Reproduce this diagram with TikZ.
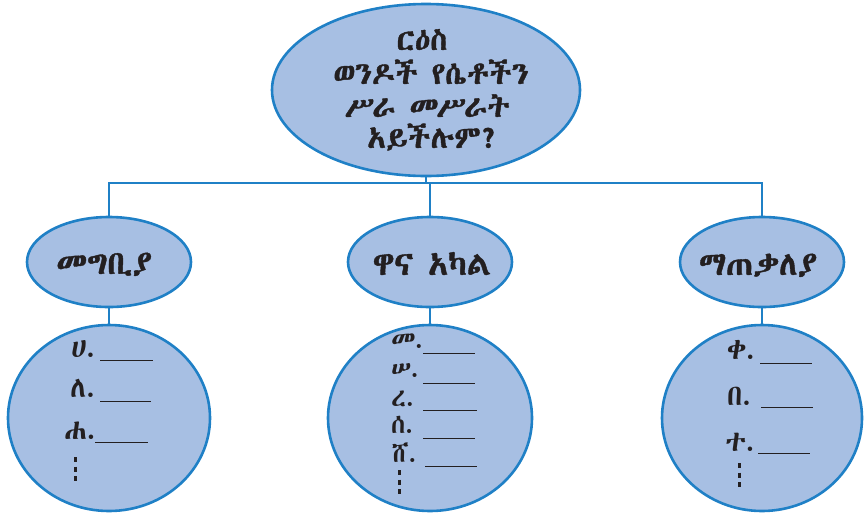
\documentclass[tikz,border=0pt]{standalone}
\usepackage{fontspec}
\usetikzlibrary{shapes.geometric}
\IfFontExistsTF{Abyssinica SIL}{\newfontfamily\eth[AutoFakeBold=1.2]{Abyssinica SIL}}{%
 \IfFontExistsTF{Noto Sans Ethiopic}{\newfontfamily\eth{Noto Sans Ethiopic}}{%
  \IfFontExistsTF{FreeSerif}{\newfontfamily\eth{FreeSerif}}{%
   \newfontfamily\eth{DejaVu Sans}}}}
\definecolor{efill}{HTML}{A7BFE3}
\definecolor{eline}{HTML}{1F80C6}
\definecolor{ink}{HTML}{231F20}
\tikzset{
  bub/.style={ellipse, draw=eline, fill=efill, line width=2.6pt, inner sep=0pt},
  conn/.style={draw=eline, line width=1.8pt},
  ttl/.style={anchor=base, font=\eth\bfseries\fontsize{31}{32}\selectfont, text=ink, inner sep=0pt},
  lab/.style={anchor=base, font=\eth\bfseries\fontsize{33}{36}\selectfont, text=ink, inner sep=0pt},
  item/.style={anchor=base west, font=\eth\fontsize{29}{30}\selectfont, text=ink, inner sep=0pt},
  itemsm/.style={item, font=\eth\fontsize{26}{27}\selectfont},
  blankline/.style={draw=ink, line width=1pt},
  vdot/.style={draw=ink, line width=3pt, dash pattern=on 5pt off 4.5pt},
}
\begin{document}
\begin{tikzpicture}[x=1pt,y=-1pt]
\useasboundingbox (0,0) rectangle (864,512);
% top
\node[bub, minimum width=308pt, minimum height=172pt] (top) at (426,90) {};
\node[ttl] (t1) at (422,50) {ርዕስ};
\node[ttl] (t2) at (431,84) {ወንዶች የሴቶችን};
\node[ttl] (t3) at (427,117) {ሥራ መሥራት};
\node[ttl] (t4) at (433,148) {አይችሉም?};
% second row
\node[bub, minimum width=164pt, minimum height=90pt] (l1) at (109,262) {};
\node[bub, minimum width=164pt, minimum height=90pt] (m1) at (430,262) {};
\node[bub, minimum width=164pt, minimum height=90pt] (r1) at (762,262) {};
\node[lab] (l1t) at (104,274) {መግቢያ};
\node[lab] (m1t) at (432,275) {ዋና አካል};
\node[lab] (r1t) at (758,275) {ማጠቃለያ};
% third row
\node[bub, minimum width=202pt, minimum height=186pt] (l2) at (109,418) {};
\node[bub, minimum width=204pt, minimum height=186pt] (m2) at (430,418) {};
\node[bub, minimum width=200pt, minimum height=186pt] (r2) at (762,418) {};
% connectors
\coordinate (hj) at (426,183);
\draw[conn] (top.south) -- (hj);
\draw[conn] (l1.north) |- (hj) -| (r1.north);
\draw[conn] (hj -| m1.north) -- (m1.north);
\draw[conn] (l1.south) -- (l2.north);
\draw[conn] (m1.south) -- (m2.north);
\draw[conn] (r1.south) -- (r2.north);
% left list
\node[item] (la) at (71,357) {ሀ.};
\node[item] (lb) at (70,397) {ለ.};
\node[item] (lc) at (64,439) {ሐ.};
\draw[blankline] (100,360) -- (153,360);
\draw[blankline] (100,401) -- (151,401);
\draw[blankline] (95,442) -- (148,442);
\draw[vdot] (75,457) -- (75,484);
% middle list
\node[itemsm] (ma) at (391,348) {መ.};
\node[itemsm] (mb) at (391,377) {ሠ.};
\node[itemsm] (mc) at (391,406) {ረ.};
\node[itemsm] (md) at (391,433) {ሰ.};
\node[itemsm] (me) at (392,462) {ሸ.};
\draw[blankline] (423,353) -- (475,353);
\draw[blankline] (423,383) -- (475,383);
\draw[blankline] (423,410) -- (477,410);
\draw[blankline] (423,438) -- (475,438);
\draw[blankline] (425,466) -- (477,466);
\draw[vdot] (399,470) -- (399,495);
% right list
\node[item] (ra) at (727,359) {ቀ.};
\node[item] (rb) at (727,405) {በ.};
\node[item] (rc) at (725,451) {ተ.};
\draw[blankline] (760,363) -- (812,363);
\draw[blankline] (761,407) -- (813,407);
\draw[blankline] (758,453) -- (810,453);
\draw[vdot] (739,463) -- (739,490);
\end{tikzpicture}
\end{document}
